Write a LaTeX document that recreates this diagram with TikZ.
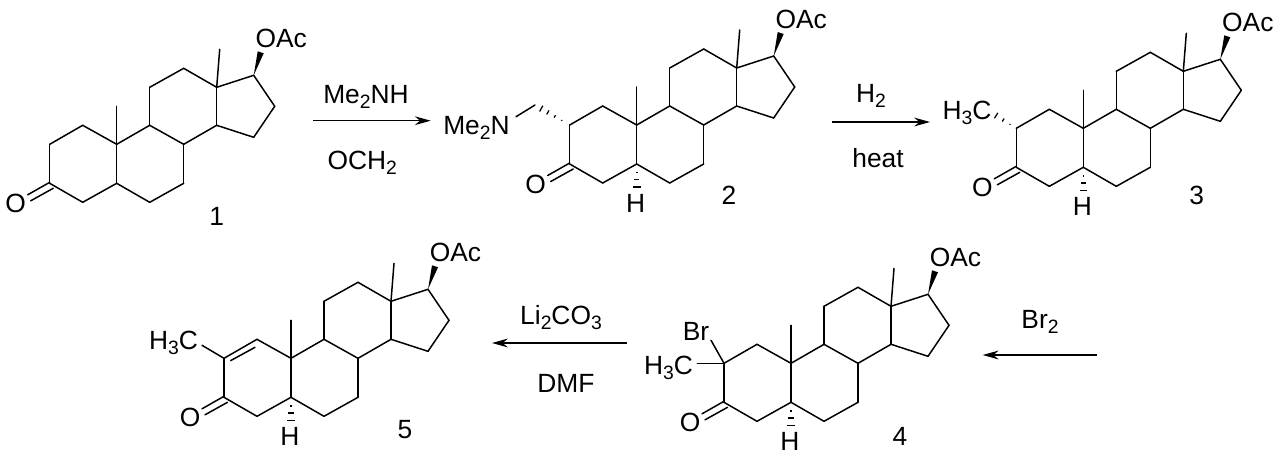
\documentclass[tikz,border=0pt]{standalone}
\usepackage{fontspec}
\setmainfont{Liberation Sans}
\usetikzlibrary{arrows.meta,calc}

\tikzset{
  bond/.style={line width=0.85pt, line cap=round, line join=round},
  label/.style={font=\fontsize{15}{18}\selectfont, inner sep=0pt},
  rxnarrow/.style={line width=0.7pt, -{Stealth[length=9pt, width=5pt]}}
}

% SUBSCRIPT IN THE LABELS
\newcommand{\lowered}[1]{\raisebox{-3pt}{\fontsize{11}{13}\selectfont #1}}

% RING SKELETON, #1 #2 = POSITION OF C10, #3 = PREFIX OF THE NAMES
\newcommand{\skeleton}[3]{
  \begin{scope}[shift={(#1, #2)}]
    \coordinate (#3c1) at (-34, -19);
    \coordinate (#3c2) at (-67, 0);
    \coordinate (#3c3) at (-67, 39);
    \coordinate (#3c4) at (-34, 58);
    \coordinate (#3c5) at (0, 39);
    \coordinate (#3c6) at (33, 58);
    \coordinate (#3c7) at (67, 39);
    \coordinate (#3c8) at (67, 0);
    \coordinate (#3c9) at (33, -19);
    \coordinate (#3c10) at (0, 0);
    \coordinate (#3c11) at (33, -57);
    \coordinate (#3c12) at (67, -76);
    \coordinate (#3c13) at (100, -57);
    \coordinate (#3c14) at (100, -19);
    \coordinate (#3c15) at (137, -7);
    \coordinate (#3c16) at (158, -38);
    \coordinate (#3c17) at (137, -69);
    \coordinate (#3me10) at (0, -38);
    \coordinate (#3me13) at (103, -95);
    \coordinate (#3wa) at (141, -93);
    \coordinate (#3wb) at (147, -91);
    \coordinate (#3oa) at (-67, 38);
    \coordinate (#3ob) at (-89, 50.5);
    \coordinate (#3oc) at (-63.5, 44);
    \coordinate (#3od) at (-86, 56.5);

    \foreach \a/\b in {c1/c2, c2/c3, c3/c4, c4/c5, c5/c10, c10/c1, c5/c6, c6/c7,
      c7/c8, c8/c9, c9/c10, c9/c11, c11/c12, c12/c13, c13/c14, c14/c8, c14/c15,
      c15/c16, c16/c17, c17/c13, c10/me10, c13/me13, oa/ob, oc/od}{
      \draw[bond] (#3\a) -- (#3\b);
    }
    \fill (#3c17) -- (#3wa) -- (#3wb) -- cycle;

    \node[label, anchor=west] (#3oac) at (138.5, -105.5) {OAc};
    \node[label] (#3o) at (-101, 59.5) {O};
  \end{scope}
}

% HYDROGEN ON C5
\newcommand{\hatom}[3]{
  \begin{scope}[shift={(#1, #2)}]
    \fill (-0.8, 46.6) rectangle (0.8, 48.2);
    \fill (-2.6, 53.8) rectangle (2.6, 55.4);
    \fill (-3.8, 61.2) rectangle (3.8, 62.8);
    \node[label] (#3h) at (-1, 78) {H};
  \end{scope}
}

% HASHED BOND, #3 = LIST OF PLACE/HALF WIDTH OF THE MARKS
\newcommand{\hashbond}[3]{
  \foreach \t/\w in {#3}{
    \draw[line width=0.7pt] ($(#1)!\t!(#2)!\w pt!90:(#2)$) -- ($(#1)!\t!(#2)!\w pt!-90:(#2)$);
  }
}

\begin{document}
\begin{tikzpicture}[x=0.02cm, y=-0.02cm]

  \useasboundingbox (0, 0) rectangle (1280, 460);

  % TOP ROW
  \skeleton{116.7}{144.3}{a}
  \node[label] (n1) at (216.7, 216.3) {1};

  \skeleton{636.7}{125}{b}
  \hatom{636.7}{125}{b}
  \coordinate (bch) at (535, 105);
  \coordinate (bn) at (516, 116.7);
  \hashbond{bc2}{bch}{0.23/0.3, 0.43/0.8, 0.63/1.3, 0.82/1.9}
  \draw[bond] (bch) -- (bn);
  \node[label, anchor=base east] (bnme) at (510, 134.5) {Me\lowered{2}N};
  \node[label] (n2) at (729, 195.5) {2};

  \skeleton{1083.3}{128.3}{c}
  \hatom{1083.3}{128.3}{c}
  \coordinate (cme) at (992, 113);
  \hashbond{cc2}{cme}{0.26/0.3, 0.54/1.0, 0.83/1.8}
  \node[label, anchor=base east] (cmet) at (991.7, 119) {H\lowered{3}C};
  \node[label] (n3) at (1196.7, 195.5) {3};

  % BOTTOM ROW
  \skeleton{291}{358.3}{e}
  \hatom{291}{358.3}{e}
  \coordinate (eia) at (230.7, 360.6);
  \coordinate (eib) at (255, 347.3);
  \draw[bond] (eia) -- (eib);
  \coordinate (eme) at (202, 345.3);
  \draw[bond] (ec2) -- (eme);
  \node[label, anchor=base east] (emet) at (198.3, 349.5) {H\lowered{3}C};
  \node[label] (n5) at (405, 430) {5};

  \skeleton{791}{363.3}{d}
  \hatom{791}{363.3}{d}
  \coordinate (dbr) at (711, 340.3);
  \coordinate (dme) at (697.3, 363.3);
  \draw[bond] (dc2) -- (dbr);
  \draw[bond] (dc2) -- (dme);
  \node[label, anchor=base] (dbrt) at (696, 340) {Br};
  \node[label, anchor=base east] (dmet) at (693.3, 374) {H\lowered{3}C};
  \node[label] (n4) at (900, 436) {4};

  % ARROWS
  \coordinate (r1a) at (313, 120.7);
  \coordinate (r1b) at (430.7, 120.7);
  \draw[rxnarrow] (r1a) -- (r1b);
  \node[label, anchor=base] (r1top) at (366, 103.5) {Me\lowered{2}NH};
  \node[label, anchor=base] (r1bot) at (362.3, 169.5) {OCH\lowered{2}};

  \coordinate (r2a) at (832, 122);
  \coordinate (r2b) at (930, 122);
  \draw[rxnarrow] (r2a) -- (r2b);
  \node[label, anchor=base] (r2top) at (871, 102) {H\lowered{2}};
  \node[label, anchor=base] (r2bot) at (878, 167.5) {heat};

  \coordinate (r3a) at (627, 343);
  \coordinate (r3b) at (492, 343);
  \draw[rxnarrow] (r3a) -- (r3b);
  \node[label, anchor=base] (r3top) at (561, 324.5) {Li\lowered{2}CO\lowered{3}};
  \node[label, anchor=base] (r3bot) at (566, 392.5) {DMF};

  \coordinate (r4a) at (1096.7, 355);
  \coordinate (r4b) at (982.7, 355);
  \draw[rxnarrow] (r4a) -- (r4b);
  \node[label, anchor=base] (r4top) at (1040, 328.3) {Br\lowered{2}};

\end{tikzpicture}
\end{document}
